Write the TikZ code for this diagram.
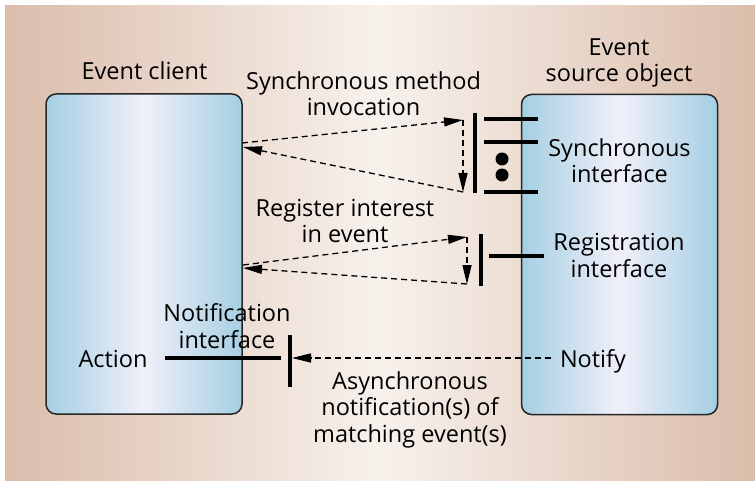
\documentclass[tikz,border=0pt]{standalone}
\usepackage{fontspec}
\setmainfont{Open Sans}
\usetikzlibrary{arrows.meta}
\definecolor{bgedge}{RGB}{219,189,171}
\definecolor{bgmid}{RGB}{247,241,236}
\definecolor{boxedge}{RGB}{165,207,227}
\definecolor{boxmid}{RGB}{240,239,249}
\tikzset{
  objbox/.style={draw=black!85,line width=1.5pt,rounded corners=10pt,minimum width=196pt,minimum height=320pt,inner sep=0pt,
    left color=boxedge,right color=boxedge,middle color=boxmid},
  lbl/.style={align=center,anchor=base,inner sep=0pt,font=\fontsize{23.5}{26.5}\selectfont},
  ifline/.style={line width=3.8pt},
  dashline/.style={dash pattern=on 6pt off 4pt,line width=1.3pt},
  call/.style={dashline,-{Triangle[length=19pt,width=9pt]}}
}
\begin{document}
\begin{tikzpicture}[x=1pt,y=-1pt]
\useasboundingbox (0,0) rectangle (755,481);
\shade[left color=bgedge,right color=bgedge,middle color=bgmid] (5,6) rectangle (755,481);
% the two objects
\node[objbox] (client) at (144,254) {};
\node[objbox] (source) at (619.5,254.5) {};
\node[lbl] (clienttitle) at (144.5,80) {Event client};
\node[lbl] (sourcetitle) at (619,82) {Event\\source object};
% interfaces
\coordinate (sbartop) at (475,113); \coordinate (sbarbot) at (475,193);
\draw[ifline] (sbartop) -- (sbarbot);
\foreach \y in {119,142,192} \draw[ifline] (484,\y) -- (538,\y);
\fill (502,159) circle[radius=6.5pt] (502,175) circle[radius=6.5pt];
\node[lbl] (syncif) at (619.5,183) {Synchronous\\interface};
\coordinate (rbartop) at (481,234); \coordinate (rbarbot) at (481,286);
\draw[ifline] (rbartop) -- (rbarbot) (489,256) -- (544,256);
\node[lbl] (regif) at (619,277) {Registration\\interface};
\coordinate (nbartop) at (290,335); \coordinate (nbarbot) at (290,387);
\draw[ifline] (nbartop) -- (nbarbot) (165,358) -- (281,358);
\node[lbl] (notifif) at (227,348) {Notification\\interface};
\node[lbl] (action) at (113,367) {Action};
\node[lbl] (notify) at (593,367) {Notify};
% calls
\coordinate (cs1) at (242,143); \coordinate (ss1) at (463,120);
\coordinate (ss2) at (463,192); \coordinate (cs2) at (243,147);
\draw[call] (cs1) -- (ss1);
\draw[call] (ss1) -- (ss2);
\draw[call] (ss2) -- (cs2);
\node[lbl] (synclabel) at (363.5,116) {Synchronous method\\invocation};
\coordinate (cr1) at (243,265); \coordinate (sr1) at (467,237);
\coordinate (sr2) at (467,284); \coordinate (cr2) at (243,268);
\draw[call] (cr1) -- (sr1);
\draw[call] (sr1) -- (sr2);
\draw[call] (sr2) -- (cr2);
\node[lbl] (reglabel) at (345,243) {Register interest\\in event};
\coordinate (nstart) at (551,358); \coordinate (nend) at (292,358);
\draw[call] (nstart) -- (nend);
\node[lbl] (asynclabel) at (410,442) {Asynchronous\\notification(s) of\\matching event(s)};
\end{tikzpicture}
\end{document}
